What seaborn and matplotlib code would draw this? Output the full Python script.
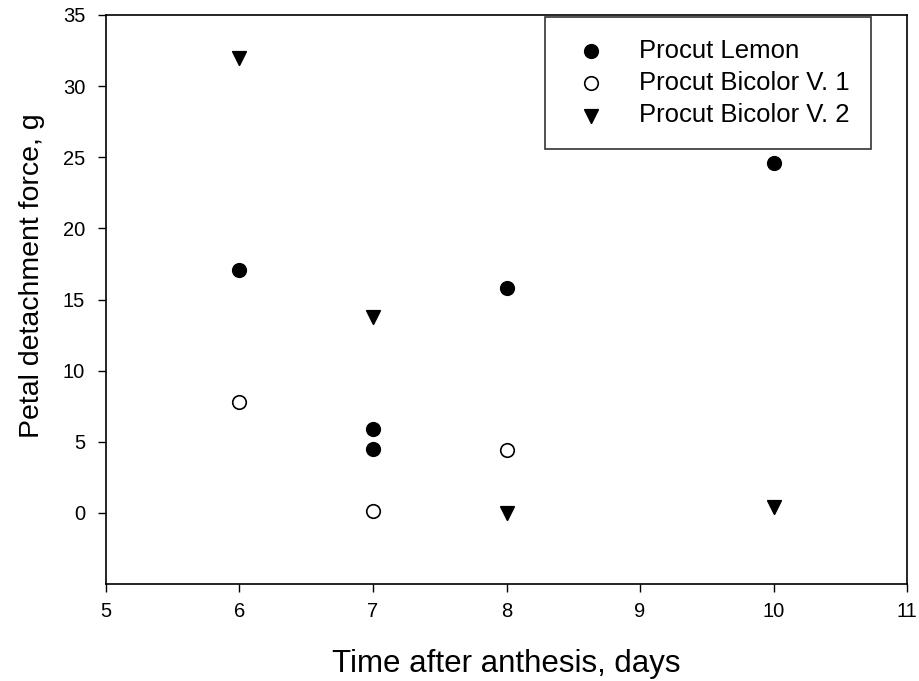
import matplotlib
matplotlib.use("Agg")
import matplotlib.pyplot as plt
import seaborn as sns
import pandas as pd

lemon_x = [6, 7, 7, 8, 10]
lemon_y = [17.1, 5.9, 4.5, 15.8, 24.6]
v1_x = [6, 7, 8]
v1_y = [7.8, 0.1, 4.4]
v2_x = [6, 7, 8, 10]
v2_y = [32.0, 13.8, 0.0, 0.4]
series_names = ["Procut Lemon", "Procut Bicolor V. 1", "Procut Bicolor V. 2"]

df = pd.concat([
    pd.DataFrame({"x": lemon_x, "y": lemon_y, "s": series_names[0]}),
    pd.DataFrame({"x": v1_x, "y": v1_y, "s": series_names[1]}),
    pd.DataFrame({"x": v2_x, "y": v2_y, "s": series_names[2]}),
])

sns.set_style("ticks")
plt.rcParams["font.family"] = ["Liberation Sans", "DejaVu Sans"]
plt.rcParams["text.color"] = "black"
plt.rcParams["axes.labelcolor"] = "black"

fig = plt.figure(figsize=(9.19, 6.81), dpi=100)
ax = fig.add_axes([0.1153, 0.1424, 0.987 - 0.1153, 0.978 - 0.1424])

styles = {
    series_names[0]: dict(marker="o", facecolor="black", s=95),
    series_names[1]: dict(marker="o", facecolor="white", s=95),
    series_names[2]: dict(marker="v", facecolor="black", s=95),
}
for name in series_names:
    sub = df[df["s"] == name]
    st = styles[name]
    sns.scatterplot(data=sub, x="x", y="y", ax=ax, marker=st["marker"],
                    s=st["s"], color=st["facecolor"], edgecolor="black",
                    linewidth=1.2, label=name, zorder=3)

ax.set_xlim(5, 11)
ax.set_ylim(-5, 35)
ax.set_xticks(range(5, 12))
ax.set_yticks(range(0, 36, 5))
ax.tick_params(direction="out", length=6, width=1, labelsize=14.5,
               colors="black", labelcolor="black")
ax.tick_params(axis="x", pad=7)
ax.tick_params(axis="y", pad=9)
for sp in ax.spines.values():
    sp.set_visible(True)
    sp.set_linewidth(1.2)
    sp.set_color("black")

ax.set_xlabel("Time after anthesis, days", fontsize=22.5, color="black")
ax.set_ylabel("Petal detachment force, g", fontsize=20.5, color="black")
ax.xaxis.set_label_coords(0.5, -0.115)
ax.yaxis.set_label_coords(-0.0755, 0.541)

leg = ax.legend(loc="upper right", bbox_to_anchor=(0.955, 0.9965), fontsize=18.5,
                frameon=True, fancybox=False, edgecolor="black",
                borderpad=0.85, handlelength=1.9, handletextpad=0.9,
                labelspacing=0.32, borderaxespad=0, markerscale=1.0)
leg.get_frame().set_linewidth(1.2)
for t in leg.get_texts():
    t.set_color("black")

fig.savefig("out.png", dpi=100)
